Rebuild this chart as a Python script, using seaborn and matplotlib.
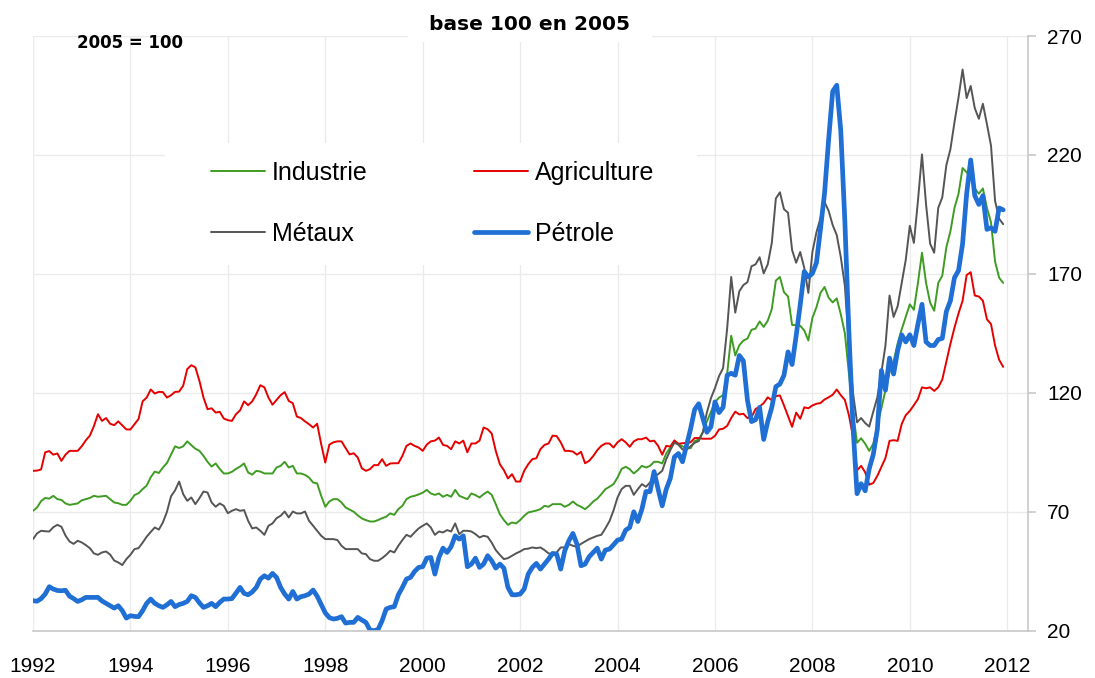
import numpy as np
import pandas as pd
import seaborn as sns
import matplotlib.pyplot as plt
from matplotlib.patches import Rectangle

# monthly indices, base 100 = 2005 (Jan 1992 -> Dec 2011), one row per year
industrie = [
    70.4, 71.8, 74.5, 75.8, 75.5, 76.7, 75.3, 75.0, 73.5, 72.9, 73.2, 73.5,
    74.8, 75.3, 75.8, 76.7, 76.3, 76.5, 76.7, 75.3, 73.9, 73.6, 72.9, 72.9,
    74.6, 77.0, 77.8, 79.5, 81.0, 84.5, 86.9, 86.3, 88.6, 90.5, 94.0, 97.5,
    96.8, 97.5, 99.6, 98.0, 96.5, 95.6, 93.5, 91.0, 89.0, 90.3, 88.0, 86.1,
    86.1, 86.8, 88.0, 89.0, 90.3, 86.5, 85.6, 87.2, 86.9, 86.1, 86.1, 86.1,
    88.6, 89.3, 91.0, 88.6, 89.3, 86.1, 86.1, 85.5, 84.4, 82.3, 81.9, 76.7,
    72.1, 74.3, 75.3, 75.3, 73.9, 71.8, 70.9, 70.0, 68.5, 67.2, 66.5, 65.9,
    65.9, 66.5, 67.3, 67.9, 69.3, 68.7, 71.1, 72.5, 75.3, 76.3, 76.7, 77.3,
    78.0, 79.2, 77.7, 77.1, 77.7, 76.3, 77.1, 76.3, 79.2, 76.7, 76.0, 75.3,
    77.7, 77.0, 76.0, 77.4, 78.5, 77.1, 73.2, 69.0, 66.5, 64.5, 65.5, 65.1,
    66.5, 68.3, 69.7, 70.1, 70.5, 71.1, 72.5, 72.1, 73.2, 73.2, 73.2, 72.1,
    72.9, 74.3, 72.9, 72.1, 71.1, 72.5, 74.3, 75.5, 77.4, 79.5, 80.5, 81.6,
    84.4, 88.0, 88.9, 87.9, 86.1, 87.5, 89.3, 88.6, 89.3, 91.0, 91.0, 90.3,
    94.5, 97.0, 99.0, 98.4, 97.5, 96.7, 96.7, 99.7, 100.4, 103.4, 107.9, 112.0,
    116.0, 118.0, 119.0, 128.0, 144.0, 135.7, 140.0, 142.0, 142.8, 146.5, 147.0, 150.0,
    147.7, 150.3, 155.2, 167.2, 168.7, 162.3, 160.5, 148.5, 148.5, 148.2, 146.2, 142.0,
    151.5, 156.0, 162.0, 164.5, 160.0, 158.0, 159.7, 153.0, 145.0, 128.0, 112.0, 99.0,
    100.9, 98.6, 95.6, 98.6, 106.1, 113.6, 121.1, 128.6, 133.2, 140.7, 146.7, 151.9,
    157.2, 154.9, 166.2, 178.9, 166.2, 157.9, 154.5, 166.2, 169.2, 181.2, 187.9, 197.7,
    203.7, 214.5, 212.7, 210.4, 205.9, 203.7, 205.9, 197.7, 191.7, 175.2, 168.4, 166.2,
]

agriculture = [
    87.2, 87.3, 87.8, 95.0, 95.5, 94.0, 94.5, 91.4, 94.0, 95.6, 95.6, 95.6,
    97.5, 100.0, 102.0, 106.0, 111.0, 108.2, 109.4, 107.0, 106.4, 108.0, 106.3, 104.6,
    104.6, 106.8, 109.0, 116.4, 118.0, 121.4, 119.7, 120.4, 120.3, 118.0, 119.0, 120.4,
    120.5, 123.0, 130.0, 131.6, 130.7, 125.0, 118.0, 113.1, 113.5, 111.7, 112.0, 109.2,
    108.5, 108.2, 111.0, 112.6, 116.4, 114.8, 116.4, 119.4, 123.2, 122.3, 118.0, 115.0,
    117.0, 119.0, 120.3, 116.6, 115.6, 110.0, 109.4, 108.0, 106.8, 105.4, 107.0, 98.4,
    90.7, 98.2, 99.2, 99.6, 99.6, 96.8, 94.1, 94.6, 92.8, 88.3, 87.2, 87.9,
    89.6, 89.6, 92.1, 89.3, 90.3, 90.4, 90.4, 93.5, 97.7, 98.7, 97.7, 97.0,
    95.6, 98.2, 99.6, 99.9, 101.2, 98.1, 97.7, 96.3, 99.6, 98.7, 99.9, 95.0,
    98.7, 98.7, 99.9, 105.4, 104.7, 102.9, 95.6, 90.0, 87.5, 84.0, 85.8, 82.7,
    82.7, 87.2, 90.0, 92.1, 92.5, 96.3, 98.1, 98.7, 102.0, 101.8, 99.2, 95.6,
    95.6, 95.3, 94.0, 95.2, 90.4, 91.4, 93.4, 95.9, 97.7, 98.7, 98.7, 97.0,
    99.2, 100.5, 99.2, 97.3, 99.6, 100.5, 100.5, 101.2, 99.6, 99.9, 97.7, 94.0,
    97.7, 97.4, 100.0, 98.6, 98.8, 99.0, 99.2, 101.0, 101.0, 100.7, 100.7, 100.7,
    101.9, 104.6, 104.9, 106.1, 109.4, 112.1, 110.9, 111.2, 109.4, 109.7, 113.2, 114.2,
    115.7, 118.1, 116.9, 118.6, 118.9, 114.7, 110.2, 105.7, 111.7, 109.1, 113.9, 113.5,
    114.7, 115.4, 115.7, 117.2, 118.1, 119.2, 121.4, 119.0, 117.0, 110.6, 101.6, 87.4,
    89.3, 86.6, 81.4, 82.1, 85.1, 88.9, 92.6, 99.8, 100.1, 99.8, 106.9, 110.6,
    112.4, 114.8, 117.4, 122.3, 121.9, 122.3, 120.8, 122.3, 125.6, 133.2, 140.6, 147.4,
    153.4, 158.7, 169.5, 170.7, 160.9, 160.5, 158.7, 150.9, 148.9, 139.9, 133.9, 130.9,
]

metaux = [
    58.5, 60.9, 62.0, 61.8, 61.7, 63.5, 64.5, 63.7, 60.0, 57.5, 56.5, 57.8,
    57.1, 56.0, 54.7, 52.5, 51.9, 52.9, 53.3, 52.0, 49.5, 48.7, 47.6, 50.1,
    51.9, 54.3, 54.7, 57.0, 59.5, 61.5, 63.4, 62.5, 65.5, 70.0, 76.5, 79.0,
    82.7, 77.4, 74.6, 76.0, 73.2, 75.7, 78.5, 78.1, 73.9, 72.1, 73.5, 72.5,
    69.4, 70.4, 71.1, 70.4, 70.7, 66.2, 63.0, 63.4, 62.0, 60.3, 64.1, 65.1,
    67.3, 68.3, 70.1, 67.6, 70.1, 69.3, 69.3, 70.1, 66.2, 64.1, 62.0, 59.9,
    58.5, 58.5, 58.5, 58.1, 55.7, 54.3, 54.3, 54.3, 54.3, 52.5, 52.2, 50.1,
    49.4, 49.4, 50.5, 51.9, 53.6, 52.9, 55.7, 58.1, 60.3, 59.5, 61.3, 63.0,
    64.1, 65.1, 63.4, 60.3, 61.7, 61.3, 62.3, 61.7, 65.1, 60.6, 62.0, 62.0,
    61.7, 60.6, 59.2, 59.9, 59.5, 57.0, 53.9, 51.9, 50.1, 50.5, 51.5, 52.5,
    53.3, 54.3, 54.5, 55.0, 54.7, 55.0, 53.9, 52.5, 52.2, 52.9, 55.0, 55.0,
    56.4, 55.7, 55.3, 56.5, 57.5, 58.5, 59.2, 59.9, 60.3, 63.0, 66.0, 70.5,
    76.0, 79.5, 80.9, 80.9, 77.1, 79.5, 81.6, 80.5, 82.3, 84.7, 85.8, 87.2,
    92.1, 95.9, 99.1, 98.2, 96.2, 96.2, 97.5, 99.0, 99.7, 103.4, 111.7, 117.7,
    122.0, 127.0, 130.4, 147.0, 168.7, 153.7, 162.7, 165.3, 166.5, 173.2, 174.0, 177.0,
    170.2, 174.0, 183.0, 201.7, 204.3, 197.2, 195.7, 180.0, 174.7, 179.2, 172.5, 162.0,
    179.2, 187.5, 193.5, 200.2, 196.5, 190.5, 186.3, 177.0, 165.0, 140.0, 120.0, 107.6,
    109.4, 107.3, 105.8, 112.1, 118.1, 128.6, 139.9, 160.9, 151.9, 156.4, 166.2, 175.9,
    190.2, 183.0, 200.7, 220.2, 199.2, 182.7, 178.9, 197.7, 202.2, 215.7, 222.4, 233.7,
    244.2, 255.9, 243.9, 249.0, 239.7, 235.2, 241.5, 232.9, 223.9, 200.7, 193.2, 190.9,
]

petrole = [
    32.6, 32.4, 33.5, 35.4, 38.5, 37.5, 36.9, 36.8, 37.0, 34.5, 33.5, 32.3,
    33.0, 34.0, 34.0, 34.0, 34.0, 32.5, 31.5, 30.5, 29.5, 30.5, 28.4, 25.3,
    26.3, 26.0, 25.9, 28.4, 31.5, 33.3, 31.5, 30.5, 29.8, 30.9, 32.3, 30.1,
    31.0, 31.5, 32.3, 34.7, 34.0, 31.7, 29.8, 30.5, 31.5, 30.1, 31.9, 33.3,
    33.3, 33.5, 35.8, 38.2, 35.7, 35.1, 36.3, 38.2, 41.7, 43.1, 42.1, 44.1,
    42.4, 38.2, 35.4, 33.3, 36.5, 33.3, 34.3, 34.7, 35.4, 37.1, 34.5, 31.0,
    27.5, 25.5, 24.9, 25.2, 25.9, 23.2, 23.5, 23.5, 25.6, 24.5, 23.5, 20.3,
    20.0, 20.5, 24.2, 29.1, 29.8, 30.1, 35.1, 38.2, 41.7, 42.4, 44.9, 46.6,
    46.9, 50.5, 50.8, 43.8, 50.8, 54.7, 52.9, 55.3, 59.9, 58.5, 59.9, 46.9,
    48.0, 50.5, 46.6, 48.0, 51.5, 49.4, 46.3, 48.0, 46.3, 38.2, 35.1, 35.1,
    35.4, 37.5, 43.8, 46.6, 48.3, 45.9, 48.0, 50.1, 52.5, 52.2, 45.9, 53.6,
    57.8, 60.9, 56.4, 47.3, 48.0, 51.1, 52.9, 54.7, 50.1, 53.9, 54.3, 56.1,
    58.1, 58.5, 62.3, 63.4, 70.0, 65.9, 71.1, 78.5, 78.5, 86.9, 79.5, 72.5,
    79.5, 84.0, 93.0, 94.5, 91.0, 98.0, 104.9, 113.0, 115.4, 109.4, 103.4, 105.7,
    116.2, 111.7, 113.9, 127.4, 128.2, 127.4, 135.7, 133.4, 116.9, 107.9, 108.7, 113.9,
    100.4, 107.9, 113.9, 122.6, 123.7, 127.4, 137.2, 131.9, 144.0, 157.0, 171.0, 168.7,
    170.2, 174.7, 189.0, 204.0, 226.5, 246.7, 249.3, 230.0, 192.0, 145.0, 106.0, 77.6,
    81.8, 78.8, 88.1, 94.1, 104.6, 129.4, 121.1, 134.6, 127.9, 137.7, 144.4, 141.4,
    144.4, 139.9, 148.9, 157.2, 141.4, 139.9, 139.9, 142.4, 142.9, 154.2, 158.7, 168.4,
    171.4, 182.7, 203.7, 217.9, 202.9, 199.2, 202.9, 188.7, 189.4, 187.9, 197.7, 196.9,
]

annees = 1992 + np.arange(len(industrie)) / 12

series = ["Industrie", "Agriculture", "Métaux", "Pétrole"]
couleurs = ["#3f9c23", "#e60000", "#555555", "#1f6fd4"]
epaisseurs = [1.4, 1.4, 1.4, 3.4]

df = pd.DataFrame({
    "annee": np.tile(annees, 4),
    "valeur": industrie + agriculture + metaux + petrole,
    "serie": np.repeat(series, len(annees)),
})

sns.set_style("white")
plt.rcParams['font.family'] = ['Liberation Sans', 'DejaVu Sans']
plt.rcParams['text.color'] = 'black'

fig = plt.figure(figsize=(10.95, 6.78), dpi=100)
ax = fig.add_axes([33 / 1095, 1 - 630.7 / 678, 994.7 / 1095, 594.7 / 678])

for nom, coul, lw in zip(series, couleurs, epaisseurs):
    sns.lineplot(data=df[df.serie == nom], x="annee", y="valeur", ax=ax,
                 color=coul, linewidth=lw, label=nom, zorder=2)

ax.set_xlim(1992, 2012.42)
ax.set_ylim(20, 270)
ax.set_xticks(range(1992, 2013, 2))
ax.set_yticks(range(20, 271, 50))
ax.set_xlabel("")
ax.set_ylabel("")

ax.grid(True, color="#ebebeb", linewidth=1)
ax.set_axisbelow(True)
for s in ["top", "left"]:
    ax.spines[s].set_visible(False)
for s in ["right", "bottom"]:
    ax.spines[s].set_color("#c8c8c8")
    ax.spines[s].set_linewidth(1.2)

ax.yaxis.tick_right()
ax.tick_params(axis="x", length=6, width=1.2, color="#c8c8c8", pad=13,
               labelsize=15, labelcolor="black")
ax.tick_params(axis="y", length=6, width=1.2, color="#c8c8c8", pad=8, labelsize=15,
               labelcolor="black", right=True, left=False, labelright=True, labelleft=False)

# white area behind the legend
ax.add_patch(Rectangle((0.1327, 0.615), 0.5348, 0.205, transform=ax.transAxes,
                       facecolor="white", edgecolor="none", zorder=1))

handles, labels = ax.get_legend_handles_labels()
ordre = [0, 2, 1, 3]
ax.legend([handles[i] for i in ordre], [labels[i] for i in ordre],
          ncol=2, frameon=False, fontsize=18, loc="upper left", labelcolor="black",
          bbox_to_anchor=(210.7 / 1095, 1 - 161 / 678), bbox_transform=fig.transFigure,
          borderpad=0, borderaxespad=0, handlelength=2.18, handletextpad=0.28,
          columnspacing=4.23, labelspacing=1.48)

# title with white background cutting the top gridline
fig.add_artist(Rectangle((408 / 1095, 1 - 42 / 678), 244 / 1095, 32 / 678,
                         transform=fig.transFigure, facecolor="white",
                         edgecolor="none", zorder=1))
fig.text(529.5 / 1095, 1 - 25 / 678, "base 100 en 2005", ha="center", va="center",
         fontsize=14.5, fontweight="bold", family="DejaVu Sans", zorder=3)
fig.text(77 / 1095, 1 - 43 / 678, "2005 = 100", ha="left", va="center",
         fontsize=12, fontweight="bold", family="DejaVu Sans", zorder=3)

fig.savefig("out.png", dpi=100)
